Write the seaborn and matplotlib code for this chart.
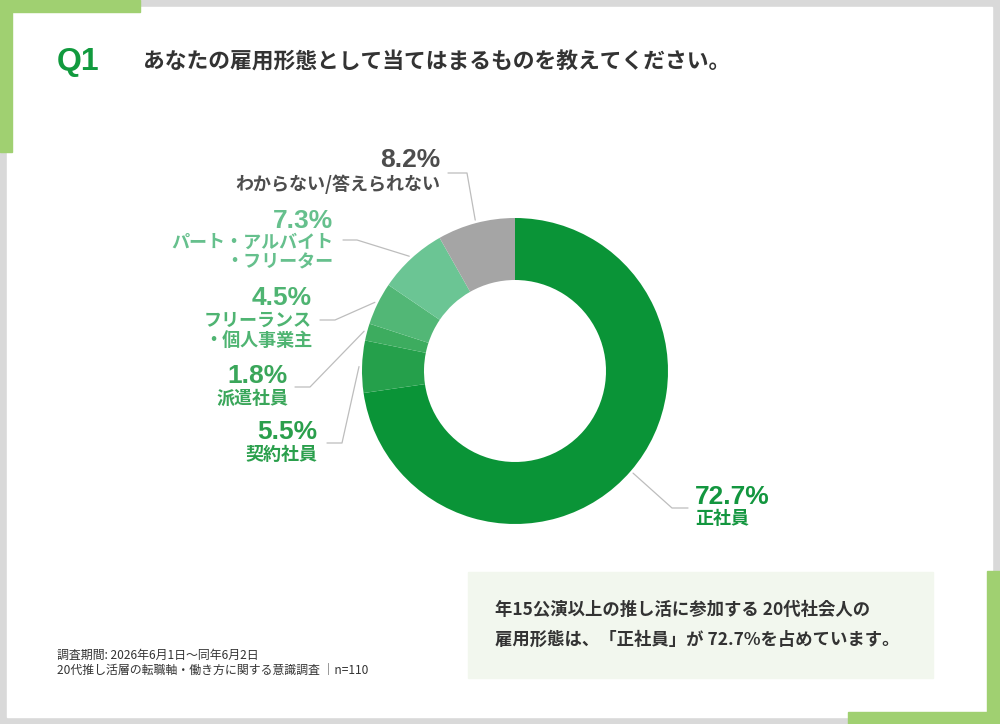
import numpy as np
import matplotlib
matplotlib.use("Agg")
import matplotlib.pyplot as plt
import seaborn as sns
from matplotlib.patches import Rectangle

# data
categories = ['正社員', '契約社員', '派遣社員', 'フリーランス\n・個人事業主',
              'パート・アルバイト\n・フリーター', 'わからない/答えられない']
shares = [72.7, 5.5, 1.8, 4.5, 7.3, 8.2]
slice_colors = ['#0a9437', '#25a04b', '#3dac5f', '#52b776', '#6bc594', '#a5a5a5']
text_colors = ['#13963f', '#2a9f4c', '#3aa65a', '#4fb472', '#66c08d', '#4d4d4d']

title_q = 'Q1'
title = 'あなたの雇用形態として当てはまるものを教えてください。'
summary = ['年15公演以上の推し活に参加する 20代社会人の',
           '雇用形態は、「正社員」が 72.7%を占めています。']
footnote = ['調査期間: 2026年6月1日～同年6月2日',
            '20代推し活層の転職軸・働き方に関する意識調査 │n=110']

sns.set_theme(style='white')
plt.rcParams['font.family'] = ['Noto Sans CJK JP', 'DejaVu Sans']

W, H = 1000, 724
fig = plt.figure(figsize=(10, 7.24), dpi=100)
ax = fig.add_axes([0, 0, 1, 1])


def Y(p):
    # pixel row (from top) -> data y
    return H - p


# frame
ax.add_patch(Rectangle((0, 0), W, H, color='#d9d9d9', zorder=0))
ax.add_patch(Rectangle((7, Y(717)), 985, 710, color='white', zorder=0))
green = '#a0d071'
ax.add_patch(Rectangle((0, Y(12)), 140, 12, color=green, zorder=1))
ax.add_patch(Rectangle((0, Y(152)), 12, 152, color=green, zorder=1))
ax.add_patch(Rectangle((987, 0), 13, H - 571, color=green, zorder=1))
ax.add_patch(Rectangle((848, 0), 152, 12, color=green, zorder=1))

# donut
cx, cy, r = 515, Y(371), 153
wedges, _ = ax.pie(shares, colors=slice_colors, startangle=90, counterclock=False,
                   radius=r, center=(cx, cy),
                   wedgeprops=dict(width=62, linewidth=0), frame=True)

# label layout (pixels): text x, align, pct y, name y, elbow, line end
layout = [
    (695, 'left', 497, 519, (672, 508), (688, 508)),
    (317, 'right', 432, 455, (342, 443), (327, 443)),
    (288, 'right', 376, 398, (310, 387), (295, 387)),
    (312, 'right', 298, 320, (335, 320), (320, 320)),
    (333, 'right', 221, 242, (357, 240), (343, 240)),
    (440, 'right', 160, 184, (467, 173), (448, 173)),
]

for w, cat, val, col, (tx, ha, py, ny, elbow, end) in zip(
        wedges, categories, shares, text_colors, layout):
    mid = np.deg2rad((w.theta1 + w.theta2) / 2)
    sx = cx + r * 1.02 * np.cos(mid)
    sy = cy + r * 1.02 * np.sin(mid)
    ax.plot([sx, elbow[0], end[0]], [sy, Y(elbow[1]), Y(end[1])],
            color='#bdbdbd', lw=0.9, zorder=3)
    ax.text(tx, Y(py), f'{val}%', ha=ha, va='center', color=col,
            fontsize=19, fontweight='bold',
            family=['Liberation Sans', 'Noto Sans CJK JP'])
    for i, line in enumerate(cat.split('\n')):
        ax.text(tx, Y(ny + i * 20), line, ha=ha, va='center', color=col,
                fontsize=13, fontweight='bold')

# title
ax.text(57, Y(62), title_q, ha='left', va='center', color='#119a3e',
        fontsize=23, fontweight='bold', family=['Liberation Sans', 'DejaVu Sans'])
ax.text(143, Y(62), title, ha='left', va='center', color='#333333',
        fontsize=15.7, fontweight='bold')

# summary box
ax.add_patch(Rectangle((468, Y(678)), 465, 106, color='#f2f7ee', zorder=1))
for i, line in enumerate(summary):
    ax.text(495, Y(610 + i * 30), line, ha='left', va='center', color='#333333',
            fontsize=12.5, fontweight='bold', zorder=2)

# footnote
for i, line in enumerate(footnote):
    ax.text(57, Y(655 + i * 16), line, ha='left', va='center', color='#333333',
            fontsize=8.6)

ax.set_xlim(0, W)
ax.set_ylim(0, H)
ax.set_aspect('equal')
ax.axis('off')

fig.savefig('out.png', dpi=100)
